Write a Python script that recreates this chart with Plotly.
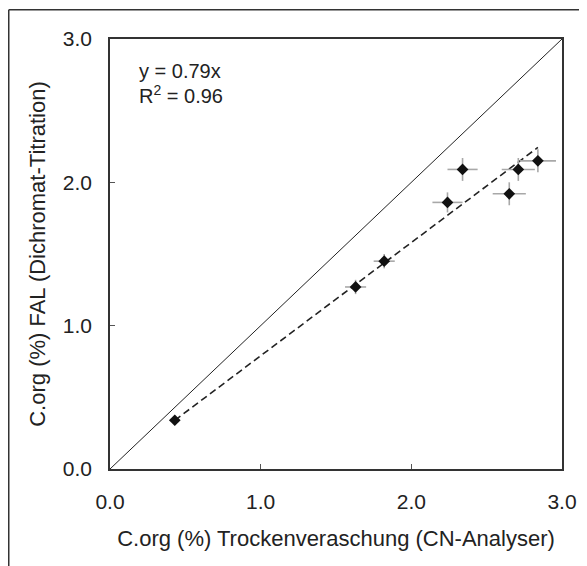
import plotly.graph_objects as go

# C.org (%) Trockenveraschung (CN-Analyser) vs. FAL (Dichromat-Titration)
x_cn = [0.43, 1.63, 1.82, 2.24, 2.34, 2.65, 2.71, 2.84]
y_fal = [0.34, 1.27, 1.45, 1.86, 2.09, 1.92, 2.09, 2.15]
err_x = [0.02, 0.07, 0.07, 0.10, 0.10, 0.11, 0.11, 0.12]
err_y = [0.02, 0.05, 0.05, 0.07, 0.08, 0.08, 0.08, 0.08]

slope = 0.79
r2 = 0.96
ticks = [0.0, 1.0, 2.0, 3.0]
tick_text = ["0.0", "1.0", "2.0", "3.0"]

FONT = "Liberation Sans, Arial, sans-serif"

fig = go.Figure()

# 1:1 Linie
fig.add_trace(go.Scatter(x=[0, 3], y=[0, 3], mode="lines",
                         line=dict(color="#222222", width=1),
                         hoverinfo="skip", showlegend=False))

# Trendlinie y = 0.79x
x_tr = [min(x_cn), max(x_cn)]
fig.add_trace(go.Scatter(x=x_tr, y=[slope * v for v in x_tr], mode="lines",
                         line=dict(color="#222222", width=1.6, dash="7px,4px"),
                         hoverinfo="skip", showlegend=False))

# Messpunkte mit Fehlerbalken
fig.add_trace(go.Scatter(
    x=x_cn, y=y_fal, mode="markers",
    marker=dict(symbol="diamond", size=9, color="#111111"),
    error_x=dict(type="data", array=err_x, color="#a8a8a8", thickness=1.6, width=0),
    error_y=dict(type="data", array=err_y, color="#a8a8a8", thickness=1.6, width=0),
    showlegend=False))

axis_common = dict(
    range=[0, 3], tickvals=ticks, ticktext=tick_text,
    showgrid=False, zeroline=False,
    showline=True, linecolor="#333333", linewidth=1.5, mirror=True,
    ticks="inside", ticklen=5, tickcolor="#555555", tickwidth=1,
    tickfont=dict(family=FONT, size=21, color="#222222"),
)

fig.update_xaxes(**axis_common, ticklabelstandoff=13,
                 title=dict(text="C.org (%) Trockenveraschung (CN-Analyser)",
                            font=dict(family=FONT, size=22, color="#222222"),
                            standoff=19))
fig.update_yaxes(**axis_common, ticklabelstandoff=12,
                 title=dict(text="C.org (%) FAL (Dichromat-Titration)",
                            font=dict(family=FONT, size=22, color="#222222"),
                            standoff=11))

fig.add_annotation(x=0.18, y=2.78, xref="x", yref="y", xanchor="left",
                   text=f"y = {slope}x", showarrow=False,
                   font=dict(family=FONT, size=20, color="#222222"))
fig.add_annotation(x=0.18, y=2.61, xref="x", yref="y", xanchor="left",
                   text=f"R<sup>2</sup> = {r2}", showarrow=False,
                   font=dict(family=FONT, size=20, color="#222222"))

# Rahmen (links und oben)
fig.add_shape(type="line", xref="paper", yref="paper",
              x0=-0.224, x1=-0.224, y0=-0.3, y1=1.068,
              line=dict(color="#333333", width=1.5))
fig.add_shape(type="line", xref="paper", yref="paper",
              x0=-0.224, x1=1.1, y0=1.068, y1=1.068,
              line=dict(color="#333333", width=1.5))

fig.update_layout(
    width=587, height=566,
    margin=dict(l=102, r=33, t=31, b=105),
    plot_bgcolor="white", paper_bgcolor="white",
    font=dict(family=FONT),
)

fig.write_html("out.html")
